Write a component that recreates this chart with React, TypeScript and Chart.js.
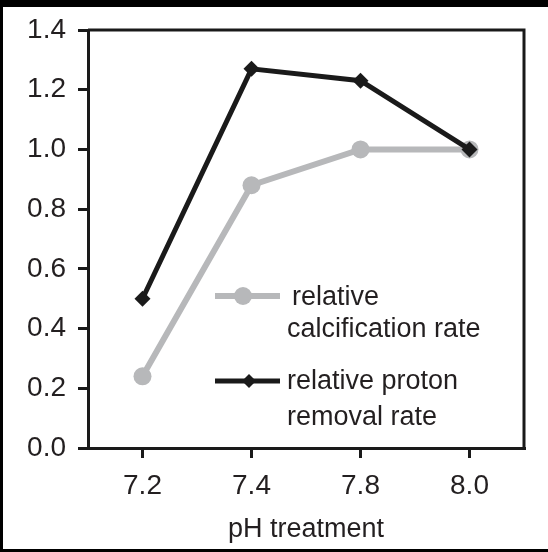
import React, { useEffect, useRef } from "react";
import { Chart, registerables } from "chart.js";

Chart.register(...registerables);

const categories = ["7.2", "7.4", "7.8", "8.0"];
const calcificationRate = [0.24, 0.88, 1.0, 1.0];
const protonRemovalRate = [0.5, 1.27, 1.23, 1.0];
const seriesNames = ["relative calcification rate", "relative proton removal rate"];
const legendLines = [
  ["relative", "calcification rate"],
  ["relative proton", "removal rate"],
];
const yMin = 0;
const yMax = 1.4;
const yStep = 0.2;
const xTitle = "pH treatment";

const FONT = "'Liberation Sans', Arial, sans-serif";
const TEXT = "#231f20";
const GRAY = "#b7b8ba";
const BLACK = "#1a1a1a";

const framePlugin = {
  id: "frame",
  beforeDraw(chart: any) {
    const { ctx, width, height } = chart;
    ctx.save();
    ctx.fillStyle = "#000";
    ctx.fillRect(0, 0, width, height);
    ctx.fillStyle = "#fff";
    ctx.fillRect(3, 7, width - 3, height - 7 - 3);
    ctx.restore();
  },
  afterDraw(chart: any) {
    const { ctx, chartArea } = chart;
    ctx.save();
    ctx.strokeStyle = BLACK;
    ctx.lineWidth = 3;
    ctx.beginPath();
    ctx.moveTo(chartArea.left, chartArea.top);
    ctx.lineTo(chartArea.right, chartArea.top);
    ctx.lineTo(chartArea.right, chartArea.bottom);
    ctx.stroke();
    ctx.restore();
  },
};

const legendPlugin = {
  id: "innerLegend",
  afterDatasetsDraw(chart: any) {
    const { ctx, chartArea } = chart;
    const x0 = chartArea.left;
    const y0 = chartArea.top;
    ctx.save();
    const items = [
      { color: GRAY, lw: 6, style: "circle", r: 9, ly: 266, mx: 155, tx: [204, 199], ty: [268, 300] },
      { color: BLACK, lw: 5, style: "diamond", r: 7, ly: 351, mx: 161, tx: [199, 199], ty: [352, 388] },
    ];
    items.forEach((it, i) => {
      const ly = y0 + it.ly;
      ctx.strokeStyle = it.color;
      ctx.lineWidth = it.lw;
      ctx.beginPath();
      ctx.moveTo(x0 + 127, ly);
      ctx.lineTo(x0 + 192, ly);
      ctx.stroke();
      ctx.fillStyle = it.color;
      ctx.beginPath();
      if (it.style === "circle") {
        ctx.arc(x0 + it.mx, ly, it.r, 0, Math.PI * 2);
      } else {
        const cx = x0 + it.mx;
        ctx.moveTo(cx, ly - it.r);
        ctx.lineTo(cx + it.r, ly);
        ctx.lineTo(cx, ly + it.r);
        ctx.lineTo(cx - it.r, ly);
        ctx.closePath();
      }
      ctx.fill();
      ctx.fillStyle = TEXT;
      ctx.font = `27px ${FONT}`;
      ctx.textBaseline = "middle";
      ctx.textAlign = "left";
      legendLines[i].forEach((t, j) => {
        ctx.fillText(t, x0 + it.tx[j], y0 + it.ty[j]);
      });
    });
    ctx.restore();
  },
};

export default function App() {
  const ref = useRef<HTMLCanvasElement>(null);
  useEffect(() => {
    document.body.style.margin = "0";
    const chart = new Chart(ref.current as HTMLCanvasElement, {
      type: "line",
      data: {
        labels: categories,
        datasets: [
          {
            label: seriesNames[0],
            data: calcificationRate,
            borderColor: GRAY,
            backgroundColor: GRAY,
            borderWidth: 6,
            pointRadius: 9,
            pointBorderWidth: 0,
            pointStyle: "circle",
            tension: 0,
            order: 2,
          },
          {
            label: seriesNames[1],
            data: protonRemovalRate,
            borderColor: BLACK,
            backgroundColor: BLACK,
            borderWidth: 5,
            pointRadius: 8,
            pointBorderWidth: 0,
            pointStyle: "rectRot",
            tension: 0,
            order: 1,
          },
        ],
      },
      options: {
        responsive: false,
        animation: false,
        layout: { padding: { top: 30, right: 24, left: 0, bottom: 0 } },
        plugins: { legend: { display: false }, tooltip: { enabled: false } },
        scales: {
          x: {
            type: "category",
            offset: true,
            afterFit(scale: any) {
              scale.height = 104;
            },
            grid: {
              display: true,
              drawOnChartArea: false,
              drawTicks: true,
              tickLength: 10,
              color: BLACK,
              lineWidth: 3,
            },
            border: { display: true, color: BLACK, width: 3 },
            ticks: {
              color: TEXT,
              font: { family: FONT, size: 28 },
              padding: 11,
              maxRotation: 0,
            },
            title: {
              display: true,
              text: xTitle,
              color: TEXT,
              font: { family: FONT, size: 27 },
              padding: { top: 0, bottom: 6 },
            },
          },
          y: {
            min: yMin,
            max: yMax,
            afterFit(scale: any) {
              scale.width = 88;
            },
            grid: {
              display: true,
              drawOnChartArea: false,
              drawTicks: true,
              tickLength: 10,
              color: BLACK,
              lineWidth: 3,
            },
            border: { display: true, color: BLACK, width: 3 },
            ticks: {
              stepSize: yStep,
              color: TEXT,
              font: { family: FONT, size: 28 },
              padding: 12,
              callback: (v: any) => Number(v).toFixed(1),
            },
          },
        },
      },
      plugins: [framePlugin, legendPlugin],
    });
    return () => chart.destroy();
  }, []);
  return <canvas ref={ref} width={548} height={552} style={{ display: "block", width: 548, height: 552 }} />;
}
